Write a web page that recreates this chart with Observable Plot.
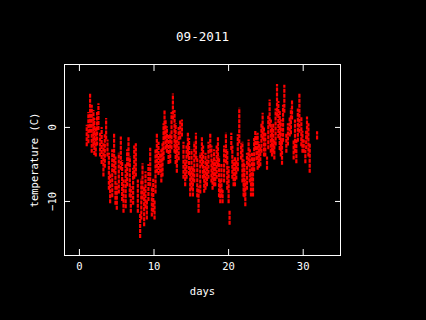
<!DOCTYPE html>
<html>
<head>
<meta charset="utf-8">
<script src="https://cdn.jsdelivr.net/npm/d3@7"></script>
<script src="https://cdn.jsdelivr.net/npm/@observablehq/plot@0.6"></script>
<style>
html,body{margin:0;padding:0;background:#000;}
</style>
</head>
<body>
<div id="chart"></div>
<script>
const title = "09-2011";
const xLabel = "days";
const yLabel = "temperature (C)";
const xTicks = [0, 10, 20, 30];
const yTicks = [0, -10];
const yTickLabels = ["0", "\u221210"];

// vertical streaks of readings: day, top temperature, bottom temperature
const day = [0.98,1.2,1.43,1.65,1.88,2.0,2.19,2.37,2.55,2.77,2.98,3.22,3.4,3.58,3.76,3.95,4.12,4.4,4.65,4.83,5.01,5.28,5.55,5.73,5.91,6.2,6.4,6.58,6.75,6.89,7.2,7.35,7.56,7.83,8.14,8.3,8.46,8.68,8.86,9.04,9.25,9.49,9.71,9.9,10.07,10.2,10.38,10.6,10.83,10.98,11.14,11.28,11.41,11.55,11.72,11.95,12.17,12.35,12.53,12.75,12.9,13.06,13.3,13.51,13.74,13.95,14.18,14.36,14.54,14.7,14.85,15.03,15.21,15.4,15.62,15.8,15.97,16.2,16.42,16.58,16.73,16.9,17.09,17.3,17.54,17.7,17.85,18.05,18.21,18.4,18.57,18.72,18.88,19.04,19.19,19.4,19.64,19.82,20.0,20.13,20.36,20.5,20.67,20.85,21.03,21.23,21.43,21.66,21.85,22.01,22.12,22.24,22.46,22.68,22.84,23.0,23.14,23.27,23.43,23.58,23.74,23.89,24.07,24.25,24.4,24.56,24.74,24.92,25.15,25.32,25.5,25.66,25.82,25.98,26.13,26.3,26.49,26.67,26.85,27.0,27.16,27.3,27.47,27.74,27.95,28.19,28.35,28.5,28.72,28.9,29.08,29.28,29.49,29.75,29.9,30.07,30.29,30.4,30.51,30.7,30.87,31.86];
const high = [0.3,2.0,4.5,3.0,2.3,1.2,0.1,2.0,3.2,-0.8,0.0,-2.2,-1.0,1.2,-1.7,-3.5,-6.2,-3.0,-0.8,-4.0,-7.6,-3.5,-1.3,-4.5,-7.1,-5.0,-3.0,-1.3,-4.0,-8.0,-5.5,-2.5,-2.2,-7.1,-11.6,-7.0,-4.9,-8.0,-6.0,-9.8,-5.0,-2.8,-8.0,-7.0,-9.8,-3.0,-0.8,-2.0,-3.5,-3.0,-2.2,0.5,2.3,1.0,0.1,-1.0,-0.8,2.0,4.5,2.3,0.5,-1.7,0.0,1.0,1.0,-2.0,-4.4,-2.5,-0.8,-1.5,-5.3,-3.0,-5.3,-2.0,-0.8,-4.0,-8.0,-3.5,-1.3,-2.5,-5.3,-3.5,-4.4,-2.0,-0.8,-2.5,-4.4,-3.0,-4.4,-2.5,-1.3,-4.0,-7.1,-5.0,-8.5,-2.5,-0.8,-3.0,-5.3,-11.2,-0.8,-2.5,-4.4,-4.0,-4.4,-1.0,2.6,-2.2,-2.0,-4.4,-5.0,-7.1,-3.5,-1.7,-3.0,-6.2,-3.5,-4.4,-1.5,-0.4,-1.0,-0.8,-2.0,-2.6,0.5,1.9,0.0,-0.8,-4.0,1.5,3.7,1.0,0.1,0.5,-1.7,2.5,5.8,3.5,2.3,1.0,-1.7,3.0,5.7,-0.8,0.5,1.4,2.5,3.7,-1.7,1.0,-1.7,2.5,4.6,1.4,-0.5,-1.7,-3.1,-0.5,1.4,0.5,-2.2,-0.6];
const low = [-2.6,-2.2,-0.8,-3.5,-2.6,-3.8,-4.0,-2.5,-0.4,-4.0,-5.0,-6.7,-5.5,-1.7,-4.0,-8.5,-10.3,-9.5,-6.2,-10.5,-11.2,-9.0,-5.8,-10.0,-11.6,-11.0,-8.0,-5.3,-9.5,-11.6,-10.5,-7.0,-6.7,-11.6,-15.0,-12.5,-9.8,-13.4,-11.0,-12.5,-10.0,-8.0,-12.1,-11.5,-12.5,-9.0,-6.2,-6.5,-6.2,-7.5,-6.7,-4.5,-1.7,-3.0,-3.5,-5.0,-4.9,-3.0,1.0,-3.5,-5.0,-6.2,-4.5,-1.7,-1.3,-7.0,-8.0,-7.0,-4.0,-6.5,-9.4,-8.5,-9.4,-7.5,-4.4,-9.5,-11.6,-9.0,-5.3,-7.0,-8.9,-8.5,-8.0,-7.0,-3.5,-7.5,-8.5,-8.0,-8.0,-7.0,-5.3,-9.5,-10.3,-9.5,-10.3,-7.5,-4.9,-8.5,-10.3,-13.2,-3.1,-7.0,-8.0,-8.0,-7.1,-6.0,-2.2,-4.4,-7.5,-9.4,-9.5,-10.7,-8.5,-5.3,-7.5,-9.4,-8.0,-9.4,-6.0,-3.1,-4.5,-5.8,-5.5,-5.3,-3.5,-1.7,-4.0,-4.0,-5.8,-3.0,0.1,-3.5,-4.0,-3.5,-4.4,-2.5,1.4,-1.5,-3.1,-4.0,-5.1,-2.0,1.9,-3.5,-2.5,-1.3,-1.0,1.0,-4.4,-3.5,-4.9,-2.0,-0.8,-2.6,-3.5,-3.5,-4.9,-3.0,-1.7,-4.0,-6.2,-1.7];

const streaks = day.map((d, i) => ({day: d, hi: high[i], lo: low[i]}));
const yTickData = yTicks.map((v, i) => ({v, label: yTickLabels[i]}));

const chart = Plot.plot({
  width: 426,
  height: 320,
  marginLeft: 64,
  marginRight: 86,
  marginTop: 64,
  marginBottom: 65,
  style: {background: "#000", color: "#fff", fontFamily: "'DejaVu Sans Mono', monospace", fontSize: "10.5px"},
  x: {domain: [-2, 35]},
  y: {domain: [-17.3, 8.5]},
  marks: [
    Plot.ruleX(streaks, {x: "day", y1: "lo", y2: "hi", stroke: "#ff0000", strokeWidth: 2.2, strokeDasharray: "4,1"}),
    Plot.frame({stroke: "#fff", strokeWidth: 1}),
    Plot.axisX(xTicks, {anchor: "bottom", tickSize: -6, tickPadding: 13, label: null, stroke: "#fff"}),
    Plot.axisX(xTicks, {anchor: "top", tickSize: -6, text: null, label: null, stroke: "#fff"}),
    Plot.axisY(yTicks, {anchor: "left", tickSize: -6, text: null, label: null, stroke: "#fff"}),
    Plot.axisY(yTicks, {anchor: "right", tickSize: -6, text: null, label: null, stroke: "#fff"}),
    Plot.text(yTickData, {y: "v", text: "label", frameAnchor: "left", textAnchor: "middle", dx: -12, rotate: -90, fill: "#fff"}),
    Plot.text([yLabel], {frameAnchor: "left", textAnchor: "middle", dx: -30, rotate: -90, fill: "#fff"}),
    Plot.text([xLabel], {frameAnchor: "bottom", dy: 39, fill: "#fff"}),
    Plot.text([title], {frameAnchor: "top", dy: -32, fill: "#fff", fontSize: 12.6})
  ]
});
document.getElementById("chart").append(chart);
</script>
</body>
</html>
